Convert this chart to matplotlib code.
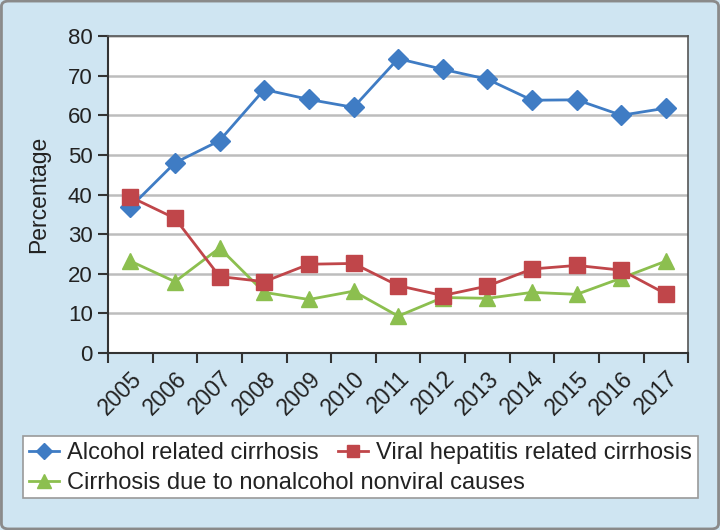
import matplotlib
matplotlib.use("Agg")
import matplotlib.pyplot as plt
from matplotlib.patches import FancyBboxPatch, Rectangle
import numpy as np

plt.rcParams['font.family'] = ['Liberation Sans', 'DejaVu Sans']

years = ['2005', '2006', '2007', '2008', '2009', '2010', '2011', '2012',
         '2013', '2014', '2015', '2016', '2017']
alcohol = [36.8, 48.0, 53.6, 66.5, 64.0, 62.0, 74.3, 71.6, 69.1, 63.8, 63.9, 60.0, 61.8]
viral = [39.4, 34.0, 19.3, 18.0, 22.4, 22.6, 17.0, 14.5, 16.9, 21.2, 22.1, 20.9, 14.9]
nonalc = [23.2, 18.0, 26.5, 15.3, 13.5, 15.6, 9.3, 14.0, 13.8, 15.3, 14.8, 18.9, 23.2]
series_names = ['Alcohol related cirrhosis', 'Viral hepatitis related cirrhosis',
                'Cirrhosis due to nonalcohol nonviral causes']
y_ticks = [0, 10, 20, 30, 40, 50, 60, 70, 80]

W, H = 720, 530
bg = '#cfe5f2'
fig = plt.figure(figsize=(7.2, 5.3), dpi=100)
fig.patch.set_facecolor(bg)
border = FancyBboxPatch((0.002, 0.002), 0.996, 0.996, boxstyle='round,pad=0,rounding_size=0.01',
                        transform=fig.transFigure, facecolor='none', edgecolor='#8a8a8a',
                        linewidth=2, zorder=0)
fig.patches.append(border)

ax = fig.add_axes([0.150, 0.334, 0.806, 0.598])
ax.set_facecolor('white')
x = np.arange(len(years))

l1, = ax.plot(x, alcohol, color='#3f7cc4', marker='D', markersize=10, linewidth=2,
              label=series_names[0], zorder=3)
l2, = ax.plot(x, viral, color='#c0464a', marker='s', markersize=11, linewidth=2,
              label=series_names[1], zorder=4)
l3, = ax.plot(x, nonalc, color='#8cbf4f', marker='^', markersize=12, linewidth=2,
              label=series_names[2], zorder=3)

ax.set_xlim(-0.5, len(years) - 0.5)
ax.set_ylim(0, 80)
ax.set_yticks(y_ticks)
ax.set_yticklabels([str(v) for v in y_ticks], fontsize=16, color='#222222')
ax.set_xticks(np.arange(-0.5, len(years), 1.0))
ax.set_xticklabels([])
ax.set_xticks(x, minor=True)
ax.set_xticklabels(years, minor=True, rotation=45, ha='right', rotation_mode='anchor',
                   fontsize=16.5, color='#222222')
ax.tick_params(axis='x', which='minor', length=0, pad=10)
ax.tick_params(axis='x', which='major', length=7, width=1.5, color='#333333', direction='out')
ax.tick_params(axis='y', length=7, width=1.5, color='#333333', direction='out', pad=4)

ax.grid(axis='y', color='#bdbdbd', linewidth=1.8)
ax.set_axisbelow(True)
for side in ['left', 'bottom']:
    ax.spines[side].set_color('#333333')
    ax.spines[side].set_linewidth(1.5)
for side in ['top', 'right']:
    ax.spines[side].set_color('#555555')
    ax.spines[side].set_linewidth(1.2)

ax.set_ylabel('Percentage', fontsize=16.5, color='#222222', labelpad=13)

# legend frame
frame = Rectangle((23 / W, 1 - 498 / H), (698 - 23) / W, (498 - 436) / H,
                  transform=fig.transFigure, facecolor='white', edgecolor='#9a9a9a',
                  linewidth=1.2, zorder=1)
fig.patches.append(frame)

leg_kw = dict(frameon=False, fontsize=17, handlelength=1.25, handletextpad=0.35,
              borderpad=0, borderaxespad=0, markerscale=0.85)
leg1 = fig.legend([l1, l2], series_names[:2], loc='center left',
                  bbox_to_anchor=(29 / W, 1 - 453 / H), ncol=2, columnspacing=0.85, **leg_kw)
leg2 = fig.legend([l3], series_names[2:], loc='center left',
                  bbox_to_anchor=(29 / W, 1 - 483 / H), ncol=1, **leg_kw)
for lg in (leg1, leg2):
    lg.set_zorder(2)
    for t in lg.get_texts():
        t.set_color('#222222')

fig.savefig('out.png', dpi=100, facecolor=bg)
